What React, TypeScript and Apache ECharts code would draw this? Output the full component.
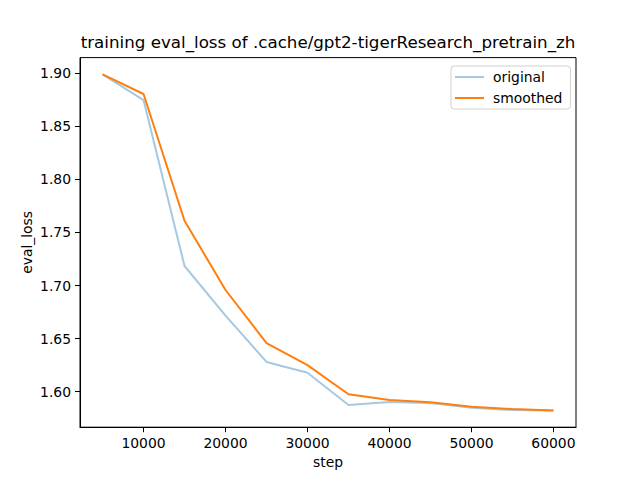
import React, { useEffect, useRef } from "react";
import * as echarts from "echarts";

const steps = [5000, 10000, 15000, 20000, 25000, 30000, 35000, 40000, 45000, 50000, 55000, 60000];
const original = [1.899, 1.8748, 1.7184, 1.6717, 1.628, 1.6178, 1.5874, 1.5902, 1.5893, 1.5848, 1.5826, 1.5822];
const smoothed = [1.899, 1.8805, 1.761, 1.6958, 1.6458, 1.625, 1.5975, 1.5921, 1.59, 1.5858, 1.5836, 1.5822];
const xTicks = [10000, 20000, 30000, 40000, 50000, 60000];
const yTicks = [1.6, 1.65, 1.7, 1.75, 1.8, 1.85, 1.9];
const titleText = "training eval_loss of .cache/gpt2-tigerResearch_pretrain_zh";

const FONT = "DejaVu Sans";

export default function App() {
  const ref = useRef<HTMLDivElement>(null);
  useEffect(() => {
    if (!ref.current) return;
    const chart = echarts.init(ref.current, undefined, { renderer: "svg" });
    const left = 80, right = 576, top = 57.6, bottom = 427.2;
    chart.setOption({
      animation: false,
      backgroundColor: "#ffffff",
      grid: {
        left: left,
        top: top,
        width: right - left,
        height: bottom - top,
        show: true,
        borderColor: "#000",
        borderWidth: 1,
        backgroundColor: "transparent",
      },
      graphic: [
        {
          type: "text",
          x: (left + right) / 2,
          y: 50,
          style: {
            text: titleText,
            font: `16.7px "${FONT}"`,
            fill: "#000",
            textAlign: "center",
            textVerticalAlign: "bottom",
          },
        },
      ],
      legend: {
        left: 451,
        top: 66,
        orient: "vertical",
        itemWidth: 29,
        itemHeight: 14,
        itemGap: 7,
        padding: [4, 8, 4, 4],
        backgroundColor: "#fff",
        borderColor: "#d0d0d0",
        borderWidth: 1,
        borderRadius: 3,
        textStyle: { fontFamily: FONT, fontSize: 13.9, color: "#000", padding: [0, 0, 0, 4] },
        data: [
          { name: "original", icon: "path://M0,0 L29,0 L29,2 L0,2 Z", itemStyle: { color: "#a5c9e1" } },
          { name: "smoothed", icon: "path://M0,0 L29,0 L29,2 L0,2 Z", itemStyle: { color: "#ff7f0e" } },
        ],
      },
      xAxis: {
        type: "value",
        min: 2250,
        max: 62750,
        name: "step",
        nameLocation: "middle",
        nameGap: 28,
        nameTextStyle: { fontFamily: FONT, fontSize: 13.9, color: "#000" },
        axisLine: { show: true, lineStyle: { color: "#000", width: 1 } },
        axisTick: { show: true, length: 5, lineStyle: { color: "#000" }, customValues: xTicks },
        axisLabel: {
          fontFamily: FONT,
          fontSize: 13.9,
          color: "#000",
          margin: 9,
          customValues: xTicks,
          formatter: (v: number) => String(v),
        },
        splitLine: { show: false },
      },
      yAxis: {
        type: "value",
        min: 1.5665,
        max: 1.9148,
        name: "eval_loss",
        nameLocation: "middle",
        nameGap: 46,
        nameMoveOverlap: false,
        nameRotate: 90,
        nameTextStyle: { fontFamily: FONT, fontSize: 13.9, color: "#000" },
        axisLine: { show: true, lineStyle: { color: "#000", width: 1 } },
        axisTick: { show: true, length: 5, lineStyle: { color: "#000" }, customValues: yTicks },
        axisLabel: {
          fontFamily: FONT,
          fontSize: 13.9,
          color: "#000",
          margin: 9,
          customValues: yTicks,
          formatter: (v: number) => v.toFixed(2),
        },
        splitLine: { show: false },
      },
      series: [
        {
          name: "original",
          type: "line",
          data: steps.map((s, i) => [s, original[i]]),
          showSymbol: false,
          lineStyle: { color: "#a5c9e1", width: 2 },
          itemStyle: { color: "#a5c9e1" },
        },
        {
          name: "smoothed",
          type: "line",
          data: steps.map((s, i) => [s, smoothed[i]]),
          showSymbol: false,
          lineStyle: { color: "#ff7f0e", width: 2 },
          itemStyle: { color: "#ff7f0e" },
        },
      ],
    });
    return () => chart.dispose();
  }, []);
  return <div ref={ref} style={{ position: "fixed", left: 0, top: 0, width: 640, height: 480 }} />;
}
